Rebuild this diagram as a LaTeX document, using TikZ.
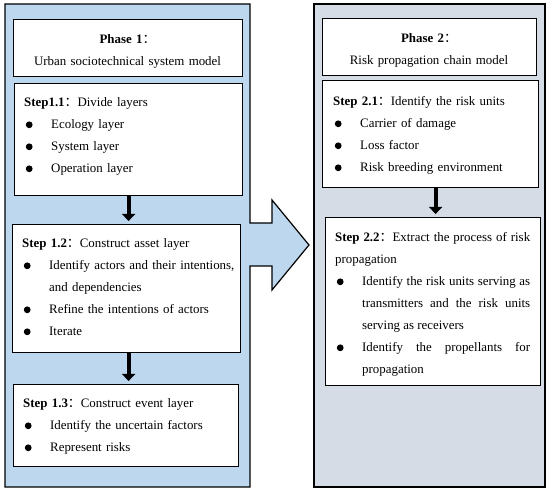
\documentclass[tikz,border=0pt]{standalone}
\usepackage{fontspec}
\setmainfont{Liberation Serif}
\newfontfamily\cjk{Noto Sans CJK SC}
\usetikzlibrary{arrows.meta}

\definecolor{phaseblue}{RGB}{189,215,238}
\definecolor{phasegray}{RGB}{214,220,229}

% bullet and bulleted item with hanging indent
\newcommand{\blt}{\tikz[baseline=0pt]\fill (0pt,4.2pt) circle (3.4pt);}
\newcommand{\itm}[1]{\par\hangindent=27pt\hangafter=1\noindent\makebox[27pt][l]{\hspace{1.6pt}\blt}#1}
\newcommand{\wcolon}{{\cjk\mdseries ：}}

\begin{document}
\begin{tikzpicture}[x=1pt, y=-1pt,
    panel/.style={draw, line width=1.2pt},
    stepbox/.style={draw, fill=white, line width=1.2pt, anchor=north west, inner sep=0pt},
    txt/.style={inner sep=0pt, font=\fontsize{12.9}{22}\selectfont},
    flow/.style={line width=4.2pt, -{Triangle[length=7pt, width=13pt]}, shorten >=3pt}]
    \useasboundingbox (0,0) rectangle (550,492);

    % Phase 1 panel, with the big arrow to phase 2
    \draw[panel, fill=phaseblue] (5,4) -- (250,4) -- (250,223) -- (272,223) -- (272,200)
        -- (309,245) -- (272,290) -- (272,266) -- (250,266) -- (250,487) -- (5,487) -- cycle;
    % Phase 2 panel
    \draw[panel, fill=phasegray] (314,4) rectangle (545,487);

    % Boxes of phase 1
    \node[stepbox, minimum width=229pt, minimum height=57pt] (ph1) at (13,19) {};
    \node[stepbox, minimum width=228pt, minimum height=112pt] (s11) at (14,83) {};
    \node[stepbox, minimum width=228pt, minimum height=128pt] (s12) at (12,224) {};
    \node[stepbox, minimum width=225pt, minimum height=82pt] (s13) at (13,384) {};

    % Boxes of phase 2
    \node[stepbox, minimum width=214pt, minimum height=57pt] (ph2) at (322,18) {};
    \node[stepbox, minimum width=216pt, minimum height=107pt] (s21) at (322,80) {};
    \node[stepbox, minimum width=215pt, minimum height=168pt] (s22) at (325,217) {};

    % Arrows between steps
    \draw[flow] (s11.south) -- (s11.south |- s12.north);
    \draw[flow] (s12.south -| s11.south) -- (s11.south |- s13.north);
    \draw[flow] ([xshift=5pt]s21.south) -- ([xshift=5pt]s21.south |- s22.north);

    % Texts
    \node[txt, text width=229pt, align=center, anchor=base] (ph1t) at (127.5,44)
        {\textbf{Phase 1}\wcolon\\Urban sociotechnical system model};
    \node[txt, text width=214pt, align=center, anchor=base] (ph2t) at (429,43)
        {\textbf{Phase 2}\wcolon\\Risk propagation chain model};

    \node[txt, text width=210pt, align=left, anchor=base west] (s11t) at (24,107)
        {\textbf{Step1.1}\wcolon Divide layers
         \itm{Ecology layer}\itm{System layer}\itm{Operation layer}\par};
    \node[txt, text width=215pt, align=left, anchor=base west] (s12t) at (22,248)
        {\textbf{Step 1.2}\wcolon Construct asset layer
         \itm{Identify actors and their intentions,\newline and dependencies}
         \itm{Refine the intentions of actors}\itm{Iterate}\par};
    \node[txt, text width=210pt, align=left, anchor=base west] (s13t) at (23,408)
        {\textbf{Step 1.3}\wcolon Construct event layer
         \itm{Identify the uncertain factors}\itm{Represent risks}\par};

    \node[txt, text width=200pt, align=left, anchor=base west] (s21t) at (333,106)
        {\textbf{Step 2.1}\wcolon Identify the risk units
         \itm{Carrier of damage}\itm{Loss factor}\itm{Risk breeding environment}\par};
    \node[txt, text width=195pt, align=justify, anchor=base west] (s22t) at (335,242)
        {\textbf{Step 2.2}\wcolon Extract the process of risk\linebreak propagation
         \itm{Identify the risk units serving as\linebreak transmitters and the risk units\linebreak serving as receivers}
         \itm{Identify the propellants for\linebreak propagation}\par};
\end{tikzpicture}
\end{document}
